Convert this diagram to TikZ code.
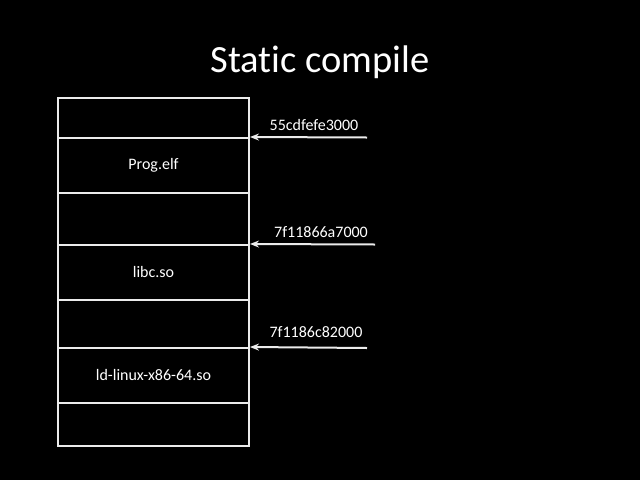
\documentclass[tikz,border=0pt]{standalone}
\usepackage{fontspec}
\setmainfont{Carlito}[Ligatures={NoCommon}]
\usetikzlibrary{arrows.meta}
\begin{document}
\begin{tikzpicture}[x=1pt, y=-1pt, inner sep=0mm,
		rowstyle/.style={draw=white!92!black, line width=2pt, minimum width=191pt, font=\fontsize{16}{19}\selectfont, text=white},
		arrowstyle/.style={draw=white!92!black, line width=2pt, -{Stealth[length=9pt, width=7pt]}},
		labelstyle/.style={font=\fontsize{16}{19}\selectfont, text=white}]
		\fill [black] (0,0) rectangle (640,480);
		\useasboundingbox (0,0) rectangle (640,480);

		\node [font=\fontsize{38.5}{44}\selectfont, text=white] (title) at (320,62) {Static compile};

		\node [rowstyle, minimum height=40pt] (gap0) at (153.5,118) {};
		\node [rowstyle, minimum height=55pt] (prog) at (153.5,165.5) {Prog.elf};
		\node [rowstyle, minimum height=52pt] (gap1) at (153.5,219) {};
		\node [rowstyle, minimum height=55pt] (libc) at (153.5,272.5) {libc.so};
		\node [rowstyle, minimum height=48pt] (gap2) at (153.5,324) {};
		\node [rowstyle, minimum height=55pt] (ld) at (153.5,375.5) {ld-linux-x86-64.so};
		\node [rowstyle, minimum height=43pt] (gap3) at (153.5,424.5) {};

		\coordinate (s1) at (367,137.5);
		\coordinate (s2) at (375,244.5);
		\coordinate (s3) at (367,348);

		\node [labelstyle] (addr1) at (314,125) {55cdfefe3000};
		\node [labelstyle] (addr2) at (321,232) {7f11866a7000};
		\node [labelstyle] (addr3) at (316,332) {7f1186c82000};

		\draw [arrowstyle] (s1) -- (prog.north east);
		\draw [arrowstyle] (s2) -- (libc.north east);
		\draw [arrowstyle] (s3) -- (ld.north east);
\end{tikzpicture}
\end{document}
